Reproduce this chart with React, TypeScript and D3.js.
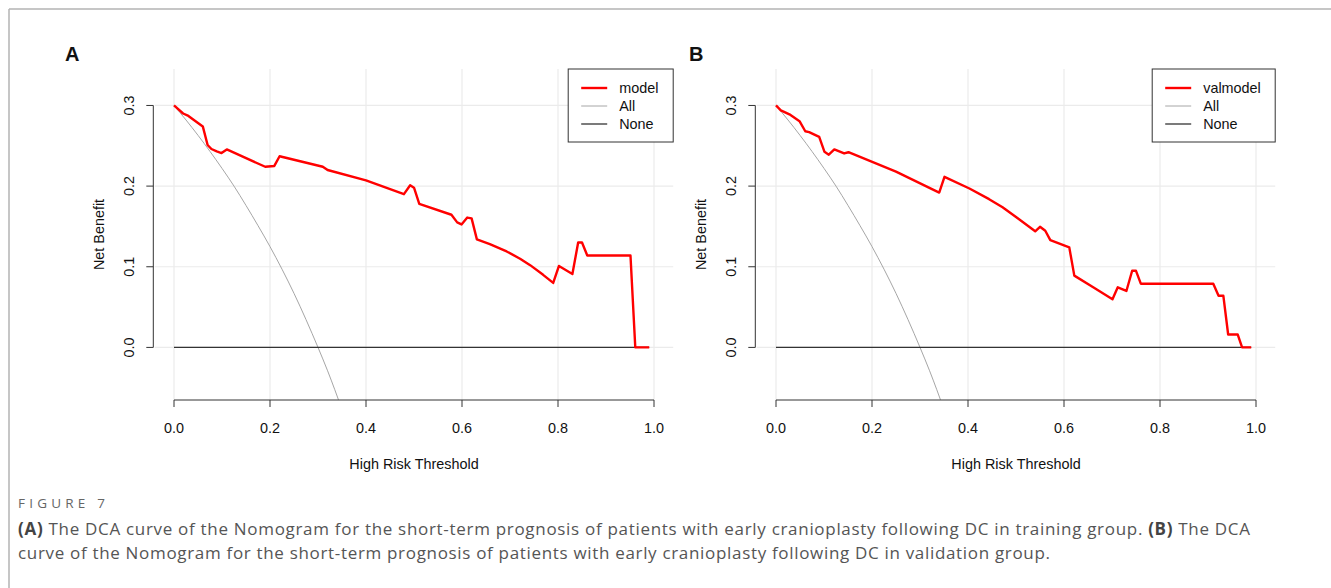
import React from "react";
import * as d3 from "d3";

// ---------- data ----------
const xTicks = [0, 0.2, 0.4, 0.6, 0.8, 1.0];
const yTicks = [0, 0.1, 0.2, 0.3];

const thresholdsA = [0, 0.019, 0.03, 0.06, 0.07, 0.078, 0.089, 0.099, 0.11, 0.19, 0.209, 0.22, 0.31, 0.32, 0.4, 0.479, 0.492, 0.5, 0.511, 0.578, 0.59, 0.599, 0.611, 0.62, 0.631, 0.658, 0.693, 0.721, 0.742, 0.769, 0.79, 0.802, 0.83, 0.842, 0.85, 0.861, 0.951, 0.961, 0.99];
const netBenefitA = [0.3, 0.29, 0.287, 0.274, 0.251, 0.246, 0.243, 0.241, 0.2455, 0.224, 0.225, 0.237, 0.224, 0.22, 0.207, 0.19, 0.201, 0.198, 0.178, 0.1645, 0.155, 0.1525, 0.161, 0.16, 0.134, 0.128, 0.119, 0.11, 0.102, 0.09, 0.08, 0.101, 0.091, 0.13, 0.13, 0.114, 0.114, 0, 0];

const thresholdsB = [0, 0.01, 0.028, 0.049, 0.061, 0.069, 0.09, 0.101, 0.11, 0.1215, 0.142, 0.151, 0.25, 0.34, 0.351, 0.403, 0.444, 0.472, 0.5, 0.54, 0.55, 0.561, 0.5715, 0.611, 0.6215, 0.66, 0.701, 0.712, 0.73, 0.742, 0.75, 0.76, 0.911, 0.922, 0.932, 0.942, 0.962, 0.971, 0.99];
const netBenefitB = [0.3, 0.294, 0.289, 0.2805, 0.268, 0.267, 0.261, 0.2425, 0.239, 0.2455, 0.2405, 0.242, 0.218, 0.192, 0.2115, 0.197, 0.1838, 0.1738, 0.1618, 0.144, 0.1496, 0.1446, 0.133, 0.124, 0.089, 0.075, 0.0596, 0.0745, 0.07, 0.095, 0.095, 0.079, 0.079, 0.064, 0.064, 0.016, 0.016, 0, 0];

const allThresholds = [0, 0.025, 0.05, 0.075, 0.1, 0.125, 0.15, 0.175, 0.2, 0.225, 0.25, 0.275, 0.3, 0.32, 0.35];
const allNetBenefit = [0.3, 0.282, 0.263, 0.243, 0.222, 0.2, 0.176, 0.151, 0.125, 0.097, 0.067, 0.0345, 0, -0.029, -0.077];

const noneThresholds = [0, 0.99];
const noneNetBenefit = [0, 0];

const panels = [
  { label: "A", model: "model", tx: thresholdsA, ty: netBenefitA, off: 0, legendW: 105 },
  { label: "B", model: "valmodel", tx: thresholdsB, ty: netBenefitB, off: 602, legendW: 123 },
];

const FONT = "'Liberation Sans', Arial, sans-serif";
const FS = 14.4;

function Panel({ p }: { p: (typeof panels)[number] }) {
  const x = d3.scaleLinear().domain([-0.04, 1.04]).range([154.8 + p.off, 673.2 + p.off]);
  const y = d3.scaleLinear().domain([-0.0652, 0.3452]).range([400, 69]);
  const [x0, x1] = x.range();
  const [yb, yt] = y.range();
  const line = d3.line<[number, number]>().x((d) => x(d[0])).y((d) => y(d[1]));
  const smooth = d3.line<[number, number]>().x((d) => x(d[0])).y((d) => y(d[1])).curve(d3.curveMonotoneX);
  const modelPts = p.tx.map((t, i) => [t, p.ty[i]] as [number, number]);
  const allPts = allThresholds.map((t, i) => [t, allNetBenefit[i]] as [number, number]);
  const nonePts = noneThresholds.map((t, i) => [t, noneNetBenefit[i]] as [number, number]);
  const clipId = `clip${p.label}`;
  const lx = x1 - p.legendW;
  const rows = [
    { name: p.model, color: "#ff0000", w: 2.4 },
    { name: "All", color: "#a6a6a6", w: 1 },
    { name: "None", color: "#333333", w: 1.3 },
  ];
  return (
    <g fontFamily={FONT}>
      <defs>
        <clipPath id={clipId}>
          <rect x={x0} y={yt} width={x1 - x0} height={yb - yt} />
        </clipPath>
      </defs>
      {/* grid */}
      <g stroke="#ebebeb" strokeWidth={1.2}>
        {xTicks.map((t) => (
          <line key={"gx" + t} x1={x(t)} x2={x(t)} y1={yt} y2={yb} />
        ))}
        {yTicks.map((t) => (
          <line key={"gy" + t} x1={x0} x2={x1} y1={y(t)} y2={y(t)} />
        ))}
      </g>
      {/* lines */}
      <g clipPath={`url(#${clipId})`} fill="none">
        <path d={smooth(allPts) || ""} stroke="#a6a6a6" strokeWidth={1} />
        <path d={line(nonePts) || ""} stroke="#333333" strokeWidth={1.3} />
        <path d={line(modelPts) || ""} stroke="#ff0000" strokeWidth={2.4} strokeLinejoin="round" />
      </g>
      {/* axes */}
      <g stroke="#333" strokeWidth={1}>
        <line x1={x(0)} x2={x(1)} y1={yb} y2={yb} />
        {xTicks.map((t) => (
          <line key={"xt" + t} x1={x(t)} x2={x(t)} y1={yb} y2={yb + 7} />
        ))}
        <line x1={x0 - 1.5} x2={x0 - 1.5} y1={y(0)} y2={y(0.3)} />
        {yTicks.map((t) => (
          <line key={"yt" + t} x1={x0 - 1.5} x2={x0 - 8.5} y1={y(t)} y2={y(t)} />
        ))}
      </g>
      <g fontSize={FS} fill="#111">
        {xTicks.map((t) => (
          <text key={"xl" + t} x={x(t)} y={433} textAnchor="middle">
            {d3.format(".1f")(t)}
          </text>
        ))}
        {yTicks.map((t) => (
          <text key={"yl" + t} transform={`translate(${134 + p.off},${y(t)}) rotate(-90)`} textAnchor="middle">
            {d3.format(".1f")(t)}
          </text>
        ))}
        <text x={(x(0) + x(1)) / 2} y={469} textAnchor="middle">
          High Risk Threshold
        </text>
        <text transform={`translate(${104 + p.off},${(yt + yb) / 2}) rotate(-90)`} textAnchor="middle">
          Net Benefit
        </text>
      </g>
      {/* legend */}
      <rect x={lx} y={yt} width={p.legendW} height={73} fill="white" stroke="#333" strokeWidth={1} />
      {rows.map((r, i) => (
        <g key={r.name}>
          <line x1={lx + 13} x2={lx + 39} y1={88 + i * 18} y2={88 + i * 18} stroke={r.color} strokeWidth={r.w} />
          <text x={lx + 51} y={88 + i * 18 + 5} fontSize={FS} fill="#111">
            {r.name}
          </text>
        </g>
      ))}
      {/* panel label */}
      <text x={p.label === "A" ? 65 : 689} y={61} fontSize={20} fontWeight="bold" fill="#111">
        {p.label}
      </text>
    </g>
  );
}

export default function App() {
  return (
    <svg width={1331} height={588} style={{ position: "absolute", left: 0, top: 0, background: "white" }}>
      <rect x={0} y={0} width={1331} height={588} fill="white" />
      <line x1={9} x2={1331} y1={9} y2={9} stroke="#b3b3b3" strokeWidth={1.5} />
      <line x1={9} x2={9} y1={9} y2={588} stroke="#b3b3b3" strokeWidth={1.5} />
      {panels.map((p) => (
        <Panel key={p.label} p={p} />
      ))}
      <g fontFamily="'Open Sans', sans-serif">
        <text x={18} y={508} fontSize={13.5} fill="#666" textLength={87} lengthAdjust="spacing">FIGURE 7</text>
        <text x={18} y={535} fontSize={17} fill="#555" textLength={1232} lengthAdjust="spacing">
          <tspan fontWeight="bold" fill="#444">(A)</tspan> The DCA curve of the Nomogram for the short-term prognosis of patients with early cranioplasty following DC in training group. <tspan fontWeight="bold" fill="#444">(B)</tspan> The DCA
        </text>
        <text x={18} y={559} fontSize={17} fill="#555" textLength={1032} lengthAdjust="spacing">
          curve of the Nomogram for the short-term prognosis of patients with early cranioplasty following DC in validation group.
        </text>
      </g>
    </svg>
  );
}
